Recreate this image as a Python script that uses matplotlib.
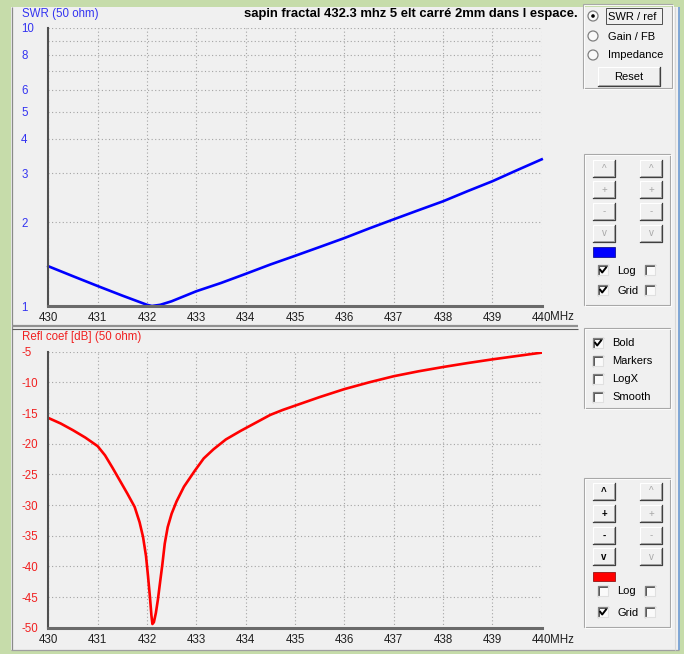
"""Redraw of an antenna analyser window: SWR and reflection coefficient vs frequency."""

import matplotlib
matplotlib.use("Agg")
import matplotlib.pyplot as plt
from matplotlib.patches import Rectangle, Circle
from matplotlib.ticker import FixedLocator, NullFormatter

W, H = 684, 654

# --- data -------------------------------------------------------------------
freq_swr = [430.0, 430.5, 431.0, 431.5, 432.0, 432.1, 432.27, 432.5, 433.0,
            433.5, 434.0, 434.5, 435.0, 435.5, 436.0, 436.5, 437.0, 437.5,
            438.0, 438.5, 439.0, 439.5, 440.0]
swr = [1.39, 1.28, 1.18, 1.09, 1.01, 1.0, 1.01, 1.04, 1.13,
       1.21, 1.305, 1.41, 1.515, 1.63, 1.755, 1.9, 2.05, 2.21,
       2.38, 2.59, 2.81, 3.08, 3.37]

freq_refl = [430.0, 430.25, 430.5, 430.75, 431.0, 431.15, 431.3, 431.45, 431.6,
             431.75, 431.85, 431.92, 431.98, 432.02, 432.06, 432.09, 432.11,
             432.14, 432.18, 432.22, 432.27, 432.31, 432.36, 432.42, 432.5,
             432.6, 432.75, 432.97, 433.15, 433.35, 433.6, 433.9, 434.2, 434.5,
             434.75, 435.0, 435.5, 436.0, 436.5, 437.0, 437.5, 438.0, 438.5,
             439.0, 439.5, 440.0]
refl_db = [-15.8, -16.7, -17.8, -19.0, -20.4, -21.9, -23.9, -26.0, -28.1,
           -30.3, -32.8, -35.2, -38.3, -41.5, -45.0, -48.0, -49.4,
           -49.1, -47.6, -45.5, -42.3, -39.8, -36.3, -33.6, -31.4,
           -29.4, -27.0, -24.4, -22.4, -20.9, -19.3, -17.9, -16.6, -15.3,
           -14.5, -13.8, -12.4, -11.1, -10.0, -9.0, -8.2, -7.5, -6.85,
           -6.25, -5.7, -5.15]

freq_ticks = [430, 431, 432, 433, 434, 435, 436, 437, 438, 439, 440]
freq_labels = ["430", "431", "432", "433", "434", "435", "436", "437", "438", "439", "440"]
swr_ticks = [1, 2, 3, 4, 5, 6, 8, 10]
swr_grid = [7, 9]
refl_ticks = [-5, -10, -15, -20, -25, -30, -35, -40, -45, -50]
refl_labels = ["-5", "-10", "-15", "-20", "-25", "-30", "-35", "-40", "-45", "-50"]

title = "sapin fractal 432.3 mhz 5 elt carré 2mm dans l espace."

# --- colours -------------------------------------------------------------------
GREEN = "#c6dcaa"
FACE = "#f0f0f0"
BLUE = "#0000ff"
BLUE_TXT = "#3434f0"
RED = "#ff0000"
RED_TXT = "#f02020"
GRID = "#a4a4a4"
GREY_TXT = "#a8a8a8"

plt.rcParams["font.family"] = ["Liberation Sans", "DejaVu Sans"]
plt.rcParams["font.size"] = 8.3

fig = plt.figure(figsize=(W / 100, H / 100), dpi=100, facecolor=GREEN)

# pixel-space overlay for the window chrome
bg = fig.add_axes([0, 0, 1, 1], zorder=0)
bg.set_xlim(0, W)
bg.set_ylim(H, 0)
bg.axis("off")


def px_rect(x0, y0, x1, y1):
    return [x0 / W, 1 - y1 / H, (x1 - x0) / W, (y1 - y0) / H]


def hline(x0, x1, y, color, lw=0.8):
    bg.plot([x0, x1], [y, y], color=color, lw=lw, solid_capstyle="butt")


def vline(x, y0, y1, color, lw=0.8):
    bg.plot([x, x], [y0, y1], color=color, lw=lw, solid_capstyle="butt")


def button(x, y, w, h, label, enabled=True):
    bg.add_patch(Rectangle((x, y), w, h, facecolor=FACE, edgecolor="none"))
    bg.plot([x, x, x + w], [y + h, y, y], color="white", lw=0.8)
    bg.plot([x, x + w, x + w], [y + h, y + h, y], color="#404040", lw=0.9)
    bg.plot([x + 1, x + w - 1, x + w - 1], [y + h - 1.2, y + h - 1.2, y + 1], color="#a0a0a0", lw=0.7)
    bg.text(x + w / 2, y + h / 2, label, ha="center", va="center", fontsize=7,
            color="black" if enabled else GREY_TXT, fontweight="bold" if enabled else "normal")


def checkbox(x, y, checked, label=None, tx=None):
    s = 10
    bg.add_patch(Rectangle((x, y), s, s, facecolor="#fafafa", edgecolor="none"))
    bg.plot([x, x, x + s], [y + s, y, y], color="#808080", lw=0.9)
    bg.plot([x + 1, x + 1, x + s - 1], [y + s - 1, y + 1, y + 1], color="#404040", lw=0.6)
    bg.plot([x, x + s, x + s], [y + s, y + s, y], color="#e0e0e0", lw=0.8)
    if checked:
        bg.plot([x + 2.2, x + 4.2, x + 8], [y + 4.8, y + 7.5, y + 2.6], color="black", lw=1.4)
    if label:
        bg.text(tx, y + s / 2 + 0.5, label, ha="left", va="center", fontsize=8)


def radio(x, y, selected, label):
    bg.add_patch(Circle((x, y), 5, facecolor="#fafafa", edgecolor="#808080", lw=0.9))
    if selected:
        bg.add_patch(Circle((x, y), 1.8, facecolor="black", edgecolor="none"))
    bg.text(x + 15, y + 0.5, label, ha="left", va="center", fontsize=8)


def group(x0, y0, x1, y1):
    bg.add_patch(Rectangle((x0, y0), x1 - x0, y1 - y0, facecolor="none", edgecolor="#a8a8a8", lw=0.8))
    bg.add_patch(Rectangle((x0 + 1, y0 + 1), x1 - x0, y1 - y0, facecolor="none", edgecolor="white", lw=0.6))


# window body and frame
bg.add_patch(Rectangle((11, 7), 668, 643, facecolor=FACE, edgecolor="none"))
vline(11.5, 7, 650, "#8a8a8a", 0.9)
hline(11, 679, 650, "#a0a0a0", 0.9)
vline(678.5, 7, 650, "#7fa6d6", 1.4)
vline(675, 7, 650, "#d8d8d8", 0.8)
hline(12, 578, 325.5, "#909090", 1.6)
hline(12, 578, 328.5, "#5a5a5a", 0.8)

# texts of the two plot panels
bg.text(22, 14, "SWR (50 ohm)", color=BLUE_TXT, ha="left", va="center", fontsize=8.3)
bg.text(578, 14.5, title, color="black", ha="right", va="center", fontsize=9.4, fontweight="bold")
bg.text(22, 337, "Refl coef [dB] (50 ohm)", color=RED_TXT, ha="left", va="center", fontsize=8.3)
bg.text(550, 317, "MHz", color="#202020", ha="left", va="center", fontsize=8.3)
bg.text(550, 640, "MHz", color="#202020", ha="left", va="center", fontsize=8.3)
bg.text(499, 291, "f5jtm", color="#1818e8", ha="center", va="center", fontsize=12.5,
        fontweight="bold", style="italic", family="DejaVu Sans")

# right hand control panel
group(583, 4, 672, 88)
radio(593, 16, True, "SWR / ref")
bg.add_patch(Rectangle((606, 8), 56, 16, facecolor="none", edgecolor="#505050", lw=0.7))
radio(593, 36, False, "Gain / FB")
radio(593, 55, False, "Impedance")
button(598, 67, 62, 19, "", True)
bg.text(629, 76.5, "Reset", ha="center", va="center", fontsize=8)

group(584, 154, 670, 305)
for row_y, sym in zip([160, 181, 203, 225], ["^", "+", "-", "v"]):
    button(593, row_y, 22, 17, sym, enabled=False)
    button(640, row_y, 22, 17, sym, enabled=False)
bg.add_patch(Rectangle((593, 247), 22, 9.5, facecolor=BLUE, edgecolor="#000080", lw=0.5))
checkbox(598, 265, True, "Log", 617)
checkbox(645, 265, False)
checkbox(598, 285, True, "Grid", 617)
checkbox(645, 285, False)

group(584, 328, 670, 408)
checkbox(593, 338, True, "Bold", 612)
checkbox(593, 356, False, "Markers", 612)
checkbox(593, 374, False, "LogX", 612)
checkbox(593, 392, False, "Smooth", 612)

group(584, 478, 670, 627)
for row_y, sym in zip([483, 505, 527, 548], ["^", "+", "-", "v"]):
    button(593, row_y, 22, 17, sym, enabled=True)
    button(640, row_y, 22, 17, sym, enabled=False)
bg.add_patch(Rectangle((593, 572), 22, 8.5, facecolor=RED, edgecolor="#800000", lw=0.5))
checkbox(598, 586, False, "Log", 617)
checkbox(645, 586, False)
checkbox(598, 607, True, "Grid", 617)
checkbox(645, 607, False)


def style_axes(ax, tick_color, pad_bottom):
    ax.set_facecolor(FACE)
    ax.set_xlim(430, 440)
    ax.set_xticks(freq_ticks, freq_labels)
    ax.grid(True, which="both", color=GRID, lw=0.8, linestyle=(0, (1, 2.2)))
    ax.tick_params(axis="both", which="both", length=0)
    ax.tick_params(axis="x", pad=pad_bottom, labelcolor="#202020", labelsize=8.3)
    ax.tick_params(axis="y", pad=19.6, labelcolor=tick_color, labelsize=8.3)
    for lbl in ax.get_yticklabels():
        lbl.set_horizontalalignment("left")
    ax.spines["left"].set_color("#505050")
    ax.spines["left"].set_linewidth(1.5)
    ax.spines["bottom"].set_color("#6a6a6a")
    ax.spines["bottom"].set_linewidth(2.2)
    ax.spines["top"].set_visible(False)
    ax.spines["right"].set_visible(False)


# SWR plot
ax1 = fig.add_axes(px_rect(48.3, 28, 541.7, 306), zorder=1)
ax1.plot(freq_swr, swr, color=BLUE, lw=1.9, solid_joinstyle="round", clip_on=False)
ax1.set_yscale("log")
ax1.set_ylim(1, 10)
ax1.yaxis.set_major_locator(FixedLocator(swr_ticks))
ax1.yaxis.set_minor_locator(FixedLocator(swr_grid))
ax1.yaxis.set_minor_formatter(NullFormatter())
ax1.set_yticks(swr_ticks, [str(v) for v in swr_ticks])
style_axes(ax1, BLUE_TXT, 4.3)

# reflection coefficient plot
ax2 = fig.add_axes(px_rect(48.3, 351.7, 541.7, 627.7), zorder=1)
ax2.plot(freq_refl, refl_db, color=RED, lw=1.9, solid_joinstyle="round")
ax2.set_ylim(-50, -5)
ax2.set_yticks(refl_ticks, refl_labels)
style_axes(ax2, RED_TXT, 4.6)

fig.savefig("out.png", dpi=100, facecolor=GREEN)
